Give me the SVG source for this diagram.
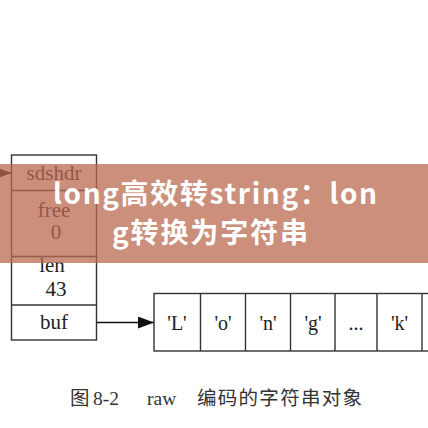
<svg xmlns="http://www.w3.org/2000/svg" width="428" height="428" viewBox="0 0 428 428">
  <defs>
    <marker id="arrow" markerWidth="16" markerHeight="12" refX="16" refY="6" orient="auto" markerUnits="userSpaceOnUse">
      <path d="M0,0 L16,6 L0,12 Z" fill="#111"/>
    </marker>
  </defs>
  <style>
    .box { fill: #fff; stroke: #333; stroke-width: 1.4; }
    .sep { stroke: #333; stroke-width: 1.4; }
    .lbl { font-family: "Liberation Serif", "Times New Roman", serif; font-size: 21px; fill: #222; text-anchor: middle; }
    .chr { font-family: "Liberation Serif", "Times New Roman", serif; font-size: 20px; fill: #222; text-anchor: middle; }
    .edge { stroke: #111; stroke-width: 1.4; fill: none; }
    .banner-text { font-family: "Noto Sans CJK SC", "Noto Sans", sans-serif; font-weight: bold; font-size: 28px; fill: #fff; }
    .caption { font-family: "Liberation Serif", "Noto Sans CJK SC", serif; font-size: 19.5px; fill: #333; }
  </style>
  <rect width="428" height="428" fill="#fff"/>

  <g id="sdshdr">
    <rect class="box" x="11.5" y="155" width="85" height="185"/>
    <line class="sep" x1="11.5" y1="190.5" x2="96.5" y2="190.5"/>
    <line class="sep" x1="11.5" y1="256.5" x2="96.5" y2="256.5"/>
    <line class="sep" x1="11.5" y1="305" x2="96.5" y2="305"/>
    <text class="lbl" x="54" y="180">sdshdr</text>
    <text class="lbl" x="54" y="217">free</text>
    <text class="lbl" x="56" y="239">0</text>
    <text class="lbl" x="52" y="272">len</text>
    <text class="lbl" x="56" y="296">43</text>
    <text class="lbl" x="54" y="329">buf</text>
  </g>

  <g id="buf-array">
    <rect class="box" x="154" y="293.5" width="320" height="57.5"/>
    <line class="sep" x1="200.5" y1="293.5" x2="200.5" y2="351"/>
    <line class="sep" x1="245.5" y1="293.5" x2="245.5" y2="351"/>
    <line class="sep" x1="290.5" y1="293.5" x2="290.5" y2="351"/>
    <line class="sep" x1="335" y1="293.5" x2="335" y2="351"/>
    <line class="sep" x1="377" y1="293.5" x2="377" y2="351"/>
    <line class="sep" x1="422" y1="293.5" x2="422" y2="351"/>
    <text class="chr" x="177" y="330">'L'</text>
    <text class="chr" x="223" y="330">'o'</text>
    <text class="chr" x="268" y="330">'n'</text>
    <text class="chr" x="313" y="330">'g'</text>
    <text class="chr" x="356" y="330">...</text>
    <text class="chr" x="399.5" y="330">'k'</text>
  </g>

  <g id="connectors">
    <line class="edge" x1="-20" y1="173" x2="11.5" y2="173" marker-end="url(#arrow)"/>
    <line class="edge" x1="96.5" y1="322.5" x2="154" y2="322.5" marker-end="url(#arrow)"/>
  </g>

  <g id="banner">
    <rect x="0" y="164" width="428" height="99" fill="rgb(185,105,80)" fill-opacity="0.75"/>
    <text class="banner-text" x="53" y="204" textLength="324" lengthAdjust="spacing">long高效转string：lon</text>
    <text class="banner-text" x="112" y="243" textLength="196" lengthAdjust="spacing">g转换为字符串</text>
  </g>

  <g id="caption">
    <text class="caption" y="405"><tspan x="70">图</tspan><tspan x="93">8-2</tspan><tspan x="147">raw</tspan><tspan x="197" textLength="165" lengthAdjust="spacing">编码的字符串对象</tspan></text>
  </g>
</svg>
